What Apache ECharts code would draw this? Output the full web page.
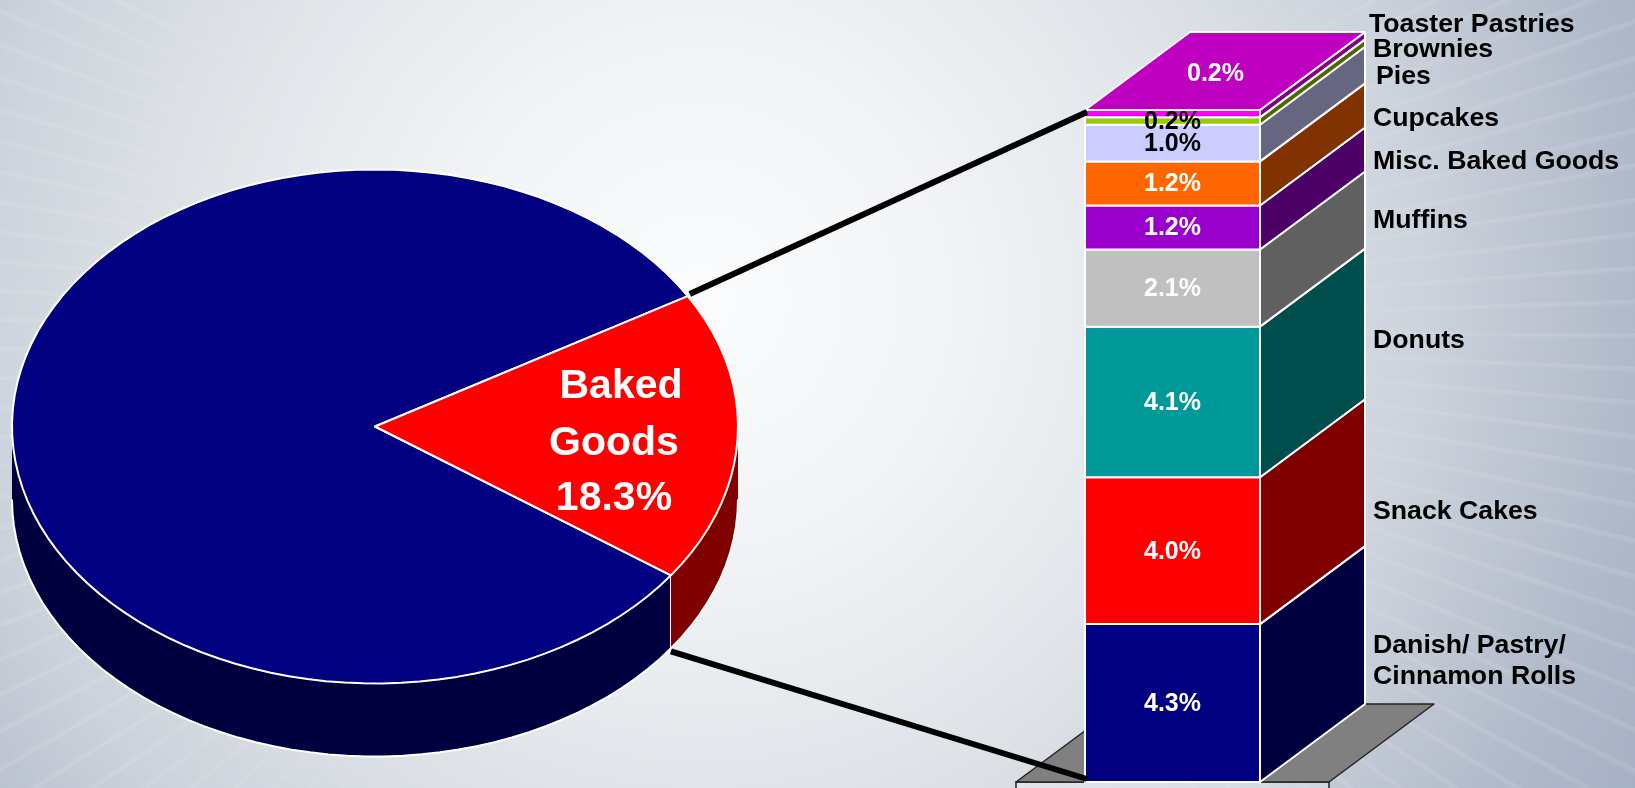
<!DOCTYPE html>
<html>
<head>
<meta charset="utf-8">
<title>Baked Goods share</title>
<style>
  html, body { margin: 0; padding: 0; width: 1635px; height: 788px; overflow: hidden; }
  body { background: radial-gradient(circle 1060px at 700px 300px, #fbfcfd 0, #f1f3f6 260px, #e2e6ea 480px, #cdd3dc 720px, #b2bbcb 920px, #a6b0c4 1060px); position: relative; }
  #rays { position: absolute; inset: 0;
    background: repeating-conic-gradient(from 0deg at 760px 330px, rgba(255,255,255,0.10) 0deg 0.2deg, rgba(255,255,255,0) 0.45deg 2.2deg);
    -webkit-mask-image: radial-gradient(circle at 760px 330px, transparent 420px, #000 760px);
    mask-image: radial-gradient(circle at 760px 330px, transparent 420px, #000 760px); }
  #chart { position: absolute; inset: 0; width: 1635px; height: 788px; }
</style>
</head>
<body>
<div id="rays"></div>
<div id="chart"></div>
<script src="https://cdn.jsdelivr.net/npm/echarts@6/dist/echarts.min.js"></script>
<script>
// Share of the whole category held by Baked Goods, and what Baked Goods is made of.
const pieNames = ['Other', 'Baked Goods'];
const pieShares = [81.7, 18.3];
const pieFaceColors = ['#000080', '#ff0000'];
const pieWallColors = ['#000040', '#800000'];
const bakedLabelLines = ['Baked', 'Goods', '18.3%'];

const segmentNames = ['Danish/ Pastry/\nCinnamon Rolls', 'Snack Cakes', 'Donuts', 'Muffins',
  'Misc. Baked Goods', 'Cupcakes', 'Pies', 'Brownies', 'Toaster Pastries'];
const segmentValues = [4.3, 4.0, 4.1, 2.1, 1.2, 1.2, 1.0, 0.2, 0.2];
const segmentFront = ['#000080', '#ff0000', '#009999', '#c0c0c0', '#9900cc', '#ff6600', '#ccccff', '#99cc00', '#ff00ff'];
const segmentSide = ['#000040', '#800000', '#004d4d', '#606060', '#4d0066', '#803300', '#666680', '#4d6600', '#800080'];
const segmentTextColor = ['#fff', '#fff', '#fff', '#fff', '#fff', '#fff', '#000', '#000', '#fff'];
const topFaceColor = '#c000c0';

// Page layout
const pieBox = { cx: 375, cy: 426.5, rx: 363, ry: 257, depth: 73 };
const pieStartDeg = -30.5;
const columnBox = { left: 1085, width: 175, top: 110, bottom: 782, dx: 105, dy: 78 };
const floorOverhang = 69;
const sideLabelX = [1373, 1373, 1373, 1373, 1373, 1373, 1376, 1373, 1369];
const sideLabelY = [661, 512, 341, 221, 162, 119, 77, 50, 25];
const bakedLabelPos = [[621, 387], [614, 444], [614, 499]];

const FONT = '"Liberation Sans", Arial, sans-serif';
const rad = d => d * Math.PI / 180;
const columnTotal = segmentValues.reduce((a, b) => a + b, 0);
const cumulative = segmentValues.reduce((acc, v, i) => { acc.push(i ? acc[i - 1] + segmentValues[i - 1] : 0); return acc; }, []);

// Slice spans in degrees, clockwise on screen, Baked Goods placed first.
const bakedSpan = pieShares[1] / 100 * 360;
const spans = [
  [pieStartDeg + bakedSpan, pieStartDeg + 360],
  [pieStartDeg, pieStartDeg + bakedSpan]
];

function arc(api, from, to, dyPx) {
  const out = [];
  const n = Math.max(2, Math.ceil((to - from) / 3));
  for (let i = 0; i <= n; i++) {
    const a = rad(from + (to - from) * i / n);
    const p = api.coord([Math.cos(a), Math.sin(a)]);
    out.push([p[0], p[1] + (dyPx || 0)]);
  }
  return out;
}

function renderPie(params, api) {
  const i = params.dataIndex;
  const [from, to] = spans[i];
  const children = [];
  // Wall: only the front half of the disc is visible.
  const wallFrom = Math.max(from, 0), wallTo = Math.min(to, 180);
  if (wallTo > wallFrom) {
    const top = arc(api, wallFrom, wallTo, 0);
    const bot = arc(api, wallFrom, wallTo, pieBox.depth);
    children.push({ type: 'polygon', shape: { points: top.concat(bot.slice().reverse()) },
      style: { fill: pieWallColors[i] } });
    children.push({ type: 'polyline', shape: { points: bot },
      style: { fill: null, stroke: '#fff', lineWidth: 2 } });
    if (i === 0) {
      children.push({ type: 'line', shape: { x1: top[0][0], y1: top[0][1], x2: bot[0][0], y2: bot[0][1] },
        style: { stroke: '#fff', lineWidth: 2 } });
    }
  }
  const c = api.coord([0, 0]);
  children.push({ type: 'polygon', shape: { points: [c].concat(arc(api, from, to, 0)) },
    style: { fill: pieFaceColors[i], stroke: '#fff', lineWidth: 2, lineJoin: 'round' } });
  if (i === 1) {
    bakedLabelLines.forEach((t, k) => children.push({ type: 'text',
      style: { text: t, x: bakedLabelPos[k][0], y: bakedLabelPos[k][1], fill: '#fff',
        font: 'bold 41px ' + FONT, align: 'center', verticalAlign: 'middle' } }));
  }
  return { type: 'group', children };
}

function renderFloor(params, api) {
  const base = api.coord([0, 0]);
  const half = api.size([1, 0])[0] / 2;
  const L = base[0] - half - floorOverhang, R = base[0] + half + floorOverhang, y = base[1];
  return { type: 'group', children: [
    { type: 'polygon', shape: { points: [[L, y], [R, y], [R, 800], [L, 800]] },
      style: { fill: 'rgba(255,255,255,0.22)', stroke: '#222', lineWidth: 1.5 } },
    { type: 'polygon', shape: { points: [[L, y], [R, y], [R + columnBox.dx, y - columnBox.dy], [L + columnBox.dx, y - columnBox.dy]] },
      style: { fill: '#808080', stroke: '#222', lineWidth: 1.5, lineJoin: 'round' } }
  ] };
}

function renderSegment(params, api) {
  const i = params.dataIndex;
  const lo = api.coord([0, api.value(1)]);
  const hi = api.coord([0, api.value(2)]);
  const half = api.size([1, 0])[0] / 2;
  const L = lo[0] - half, R = lo[0] + half;
  const dx = columnBox.dx, dy = columnBox.dy;
  const white = { stroke: '#fff', lineWidth: 2, lineJoin: 'round' };
  const children = [
    { type: 'rect', shape: { x: L, y: hi[1], width: R - L, height: lo[1] - hi[1] },
      style: Object.assign({ fill: segmentFront[i] }, white) },
    { type: 'polygon', shape: { points: [[R, lo[1]], [R + dx, lo[1] - dy], [R + dx, hi[1] - dy], [R, hi[1]]] },
      style: Object.assign({ fill: segmentSide[i] }, white) }
  ];
  const last = i === segmentValues.length - 1;
  if (last) {
    children.push({ type: 'polygon',
      shape: { points: [[L, hi[1]], [R, hi[1]], [R + dx, hi[1] - dy], [L + dx, hi[1] - dy]] },
      style: Object.assign({ fill: topFaceColor }, white) });
  }
  // Value label: the topmost segment carries it on the top face.
  const valueText = segmentValues[i].toFixed(1) + '%';
  const labelPos = last ? [lo[0] + 43, hi[1] - dy / 2 + 3] : [lo[0], (lo[1] + hi[1]) / 2 + 1];
  children.push({ type: 'text', z2: 5,
    style: { text: valueText, x: labelPos[0], y: labelPos[1], fill: segmentTextColor[i],
      font: 'bold 25px ' + FONT, align: 'center', verticalAlign: 'middle' } });
  // Name beside the column.
  children.push({ type: 'text', z2: 5,
    style: { text: segmentNames[i], x: sideLabelX[i], y: sideLabelY[i], fill: '#000', lineHeight: 31,
      font: 'bold 26.7px ' + FONT, align: 'left', verticalAlign: 'middle' } });
  return { type: 'group', children };
}

function renderConnector(params, api) {
  const half = api.size([1, 0])[0] / 2;
  const isTop = params.dataIndex === 0;
  const a = rad(isTop ? spans[1][0] : spans[1][1]);
  const px = pieBox.cx + pieBox.rx * Math.cos(a) + (isTop ? 2 : 0);
  const py = pieBox.cy + pieBox.ry * Math.sin(a) + (isTop ? -2 : pieBox.depth + 3);
  const end = api.coord([0, isTop ? api.value(1) : 0]);
  return { type: 'line',
    shape: { x1: px, y1: py, x2: end[0] - half + 2, y2: end[1] + (isTop ? 2 : -3) },
    style: { stroke: '#000', lineWidth: 6 } };
}

const chart = echarts.init(document.getElementById('chart'), null, { renderer: 'canvas' });
chart.setOption({
  animation: false,
  backgroundColor: 'transparent',
  grid: [
    { left: pieBox.cx - pieBox.rx, top: pieBox.cy - pieBox.ry, width: 2 * pieBox.rx, height: 2 * pieBox.ry },
    { left: columnBox.left, top: columnBox.top, width: columnBox.width, height: columnBox.bottom - columnBox.top }
  ],
  xAxis: [
    { gridIndex: 0, type: 'value', min: -1, max: 1, show: false },
    { gridIndex: 1, type: 'category', data: ['Baked Goods'], show: false }
  ],
  yAxis: [
    { gridIndex: 0, type: 'value', min: -1, max: 1, inverse: true, show: false },
    { gridIndex: 1, type: 'value', min: 0, max: columnTotal, show: false }
  ],
  series: [
    { type: 'custom', name: 'share', xAxisIndex: 0, yAxisIndex: 0, clip: false, z: 2,
      data: pieNames.map((n, i) => ({ name: n, value: [0, pieShares[i]] })),
      encode: { x: 0, y: 1 }, renderItem: renderPie },
    { type: 'custom', name: 'floor', xAxisIndex: 1, yAxisIndex: 1, clip: false, z: 1,
      data: [[0, 0]], encode: { x: 0, y: 1 }, renderItem: renderFloor },
    { type: 'custom', name: 'segments', xAxisIndex: 1, yAxisIndex: 1, clip: false, z: 3,
      data: segmentValues.map((v, i) => ({ name: segmentNames[i], value: [0, cumulative[i], cumulative[i] + v] })),
      encode: { x: 0, y: [1, 2] }, renderItem: renderSegment },
    { type: 'custom', name: 'connectors', xAxisIndex: 1, yAxisIndex: 1, clip: false, z: 4,
      data: [[0, columnTotal], [0, 0]], encode: { x: 0, y: 1 }, renderItem: renderConnector }
  ]
});
</script>
</body>
</html>
